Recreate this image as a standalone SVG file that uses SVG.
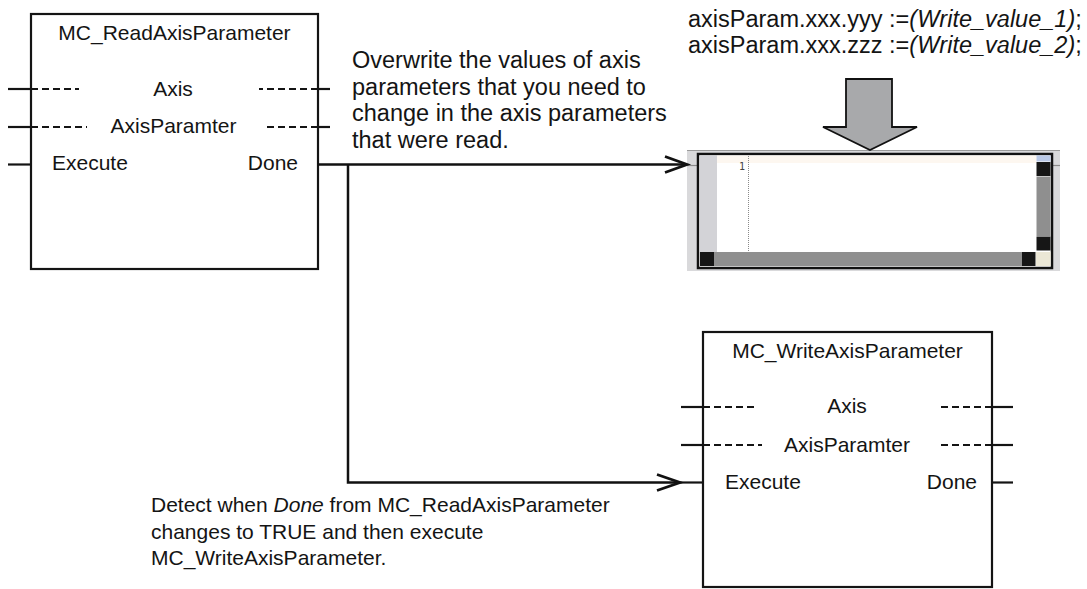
<svg xmlns="http://www.w3.org/2000/svg" width="1087" height="589" viewBox="0 0 1087 589">
<style>
text{font-family:"Liberation Sans",Arial,Helvetica,sans-serif;fill:#141414}
.blk{font-size:21px}
.big{font-size:23.5px}
.box{fill:#fff;stroke:#141414;stroke-width:2.2}
.pin{stroke:#141414;stroke-width:2.2;fill:none}
.dash{stroke:#141414;stroke-width:2;stroke-dasharray:7,4;fill:none}
.wire{stroke:#111;stroke-width:2.5;fill:none}
.head{stroke:#111;stroke-width:2.8;fill:none;stroke-linejoin:miter}
.btn{fill:#161616}
.trk{fill:#8f8f8f}
</style>

<g id="read-block">
  <rect class="box" x="31" y="14" width="287" height="255"/>
  <text class="blk" x="174.5" y="40" text-anchor="middle">MC_ReadAxisParameter</text>
  <line class="pin" x1="8" y1="89" x2="31" y2="89"/>
  <line class="dash" x1="31" y1="89" x2="79" y2="89"/>
  <line class="dash" x1="318" y1="89" x2="259" y2="89"/>
  <line class="pin" x1="318" y1="89" x2="330" y2="89"/>
  <text class="blk" x="173" y="96" text-anchor="middle">Axis</text>
  <line class="pin" x1="8" y1="127" x2="31" y2="127"/>
  <line class="dash" x1="31" y1="127" x2="87" y2="127"/>
  <line class="dash" x1="318" y1="127" x2="264" y2="127"/>
  <line class="pin" x1="318" y1="127" x2="330" y2="127"/>
  <text class="blk" x="173.5" y="133" text-anchor="middle">AxisParamter</text>
  <line class="pin" x1="8" y1="164.5" x2="31" y2="164.5"/>
  <text class="blk" x="52" y="170">Execute</text>
  <text class="blk" x="298" y="170" text-anchor="end">Done</text>
</g>

<g id="write-block">
  <rect class="box" x="703" y="332" width="289" height="255"/>
  <text class="blk" x="847.5" y="358" text-anchor="middle">MC_WriteAxisParameter</text>
  <line class="pin" x1="681" y1="407" x2="703" y2="407"/>
  <line class="dash" x1="703" y1="407" x2="757" y2="407"/>
  <line class="dash" x1="992" y1="407" x2="938" y2="407"/>
  <line class="pin" x1="992" y1="407" x2="1013" y2="407"/>
  <text class="blk" x="847" y="413" text-anchor="middle">Axis</text>
  <line class="pin" x1="681" y1="445" x2="703" y2="445"/>
  <line class="dash" x1="703" y1="445" x2="762" y2="445"/>
  <line class="dash" x1="992" y1="445" x2="939" y2="445"/>
  <line class="pin" x1="992" y1="445" x2="1013" y2="445"/>
  <text class="blk" x="847" y="452" text-anchor="middle">AxisParamter</text>
  <line class="pin" x1="680" y1="482.5" x2="703" y2="482.5"/>
  <text class="blk" x="725" y="489">Execute</text>
  <line class="pin" x1="992" y1="482.5" x2="1013" y2="482.5"/>
  <text class="blk" x="977" y="489" text-anchor="end">Done</text>
</g>

<g id="editor">
  <rect x="687" y="150" width="373" height="121" fill="#d9d9db"/>
  <line x1="687" y1="150.5" x2="1060" y2="150.5" stroke="#9a9a9a" stroke-width="1"/>
  <line x1="687" y1="165.5" x2="698" y2="165.5" stroke="#8a8a8a" stroke-width="1.2"/>
  <line x1="1052" y1="165.5" x2="1060" y2="165.5" stroke="#8a8a8a" stroke-width="1.2"/>
  <rect x="698" y="154" width="354" height="114" fill="#fff" stroke="#111" stroke-width="2.5"/>
  <rect x="699.5" y="155.5" width="17.5" height="96.5" fill="#d3d3d7"/>
  <rect x="717" y="155.5" width="319.5" height="7.5" fill="#fdf7f0"/>
  <line x1="748.5" y1="156" x2="748.5" y2="252" stroke="#8a8a8a" stroke-width="1" stroke-dasharray="1,1"/>
  <text x="745" y="170" text-anchor="end" style="font-family:'DejaVu Sans Mono',monospace;font-size:10px;fill:#444">1</text>
  <rect x="1036.5" y="155.5" width="14" height="6" fill="#b9c8e6"/>
  <rect class="btn" x="1036.5" y="162" width="14" height="14"/>
  <rect class="trk" x="1036.5" y="176.5" width="14" height="59.5"/>
  <rect class="btn" x="1036.5" y="236.5" width="14" height="14"/>
  <rect class="btn" x="700" y="252" width="14" height="14"/>
  <rect class="trk" x="714" y="252" width="308" height="14"/>
  <rect class="btn" x="1022" y="252" width="13.5" height="14"/>
  <rect x="1036" y="252" width="14.5" height="14" fill="#ebe7d6"/>
</g>

<g id="code-text">
  <text class="big" x="688" y="26.5">axisParam.xxx.yyy :=<tspan font-style="italic">(Write_value_1)</tspan>;</text>
  <text class="big" x="688" y="52.5">axisParam.xxx.zzz :=<tspan font-style="italic">(Write_value_2)</tspan>;</text>
</g>

<g id="big-arrow">
  <polygon points="846,79 892,79 892,127 917,127 870,150 823,127 846,127" fill="#a8a9ab" stroke="#111" stroke-width="1.8" stroke-linejoin="miter"/>
</g>

<g id="note-overwrite">
  <text class="big" x="352" y="68">Overwrite the values of axis</text>
  <text class="big" x="352" y="94.7">parameters that you need to</text>
  <text class="big" x="352" y="121.4">change in the axis parameters</text>
  <text class="big" x="352" y="148">that were read.</text>
</g>

<g id="note-detect">
  <text class="blk" x="151" y="512">Detect when <tspan font-style="italic">Done</tspan> from MC_ReadAxisParameter</text>
  <text class="blk" x="151" y="538.5">changes to TRUE and then execute</text>
  <text class="blk" x="151" y="565">MC_WriteAxisParameter.</text>
</g>

<g id="connectors">
  <path class="wire" d="M318,164.5 H686"/>
  <path class="head" d="M665,156.5 L687,164.5 L665,172.5"/>
  <path class="wire" d="M348,164.5 V482.5 H679"/>
  <path class="head" d="M657,474.5 L680,482.5 L657,490.5"/>
</g>
</svg>
